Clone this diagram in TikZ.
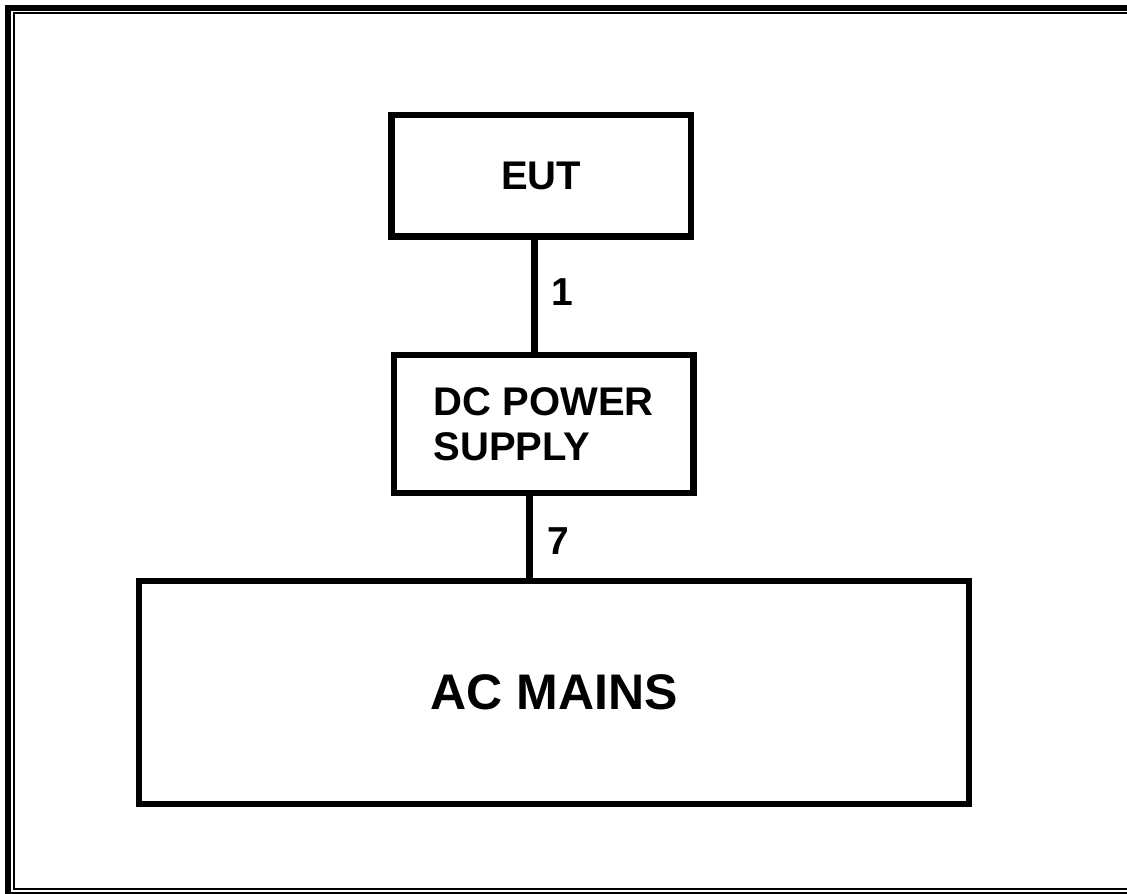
\documentclass[tikz,border=0pt]{standalone}
\usepackage{fontspec}
\setmainfont{Liberation Sans}
\usepackage{tikz}

\begin{document}
\begin{tikzpicture}[x=1pt, y=-1pt, line width=6.5pt,
    box/.style={draw, rectangle, inner sep=0pt, align=left,
                font=\fontsize{40}{45}\selectfont\bfseries},
    wirelabel/.style={inner sep=0pt, font=\fontsize{39}{44}\selectfont\bfseries}]
  \useasboundingbox (0,0) rectangle (1127,894);
  \clip (0,0) rectangle (1127,894);

  % Page frame
  \draw[line width=6.5pt] (8,8) rectangle (1140,895.5);
  \draw[line width=2pt] (14,13) rectangle (1132,889);

  % Blocks
  \node[box, minimum width=299.5pt, minimum height=121.5pt] (eut) at (541.25,175.75) {EUT};
  \node[box, minimum width=299.5pt, minimum height=138pt] (dcps) at (543.75,424) {DC POWER\\SUPPLY};
  \node[box, minimum width=830pt, minimum height=223pt,
        font=\fontsize{50}{56}\selectfont\bfseries] (mains) at (554,692.5) {AC MAINS};

  % Cables
  \coordinate (c1) at (534.5,0);
  \coordinate (c7) at (529.5,0);
  \draw (c1 |- eut.south) -- (c1 |- dcps.north);
  \draw (c7 |- dcps.south) -- (c7 |- mains.north);
  \node[wirelabel] (n1) at (562,292) {1};
  \node[wirelabel] (n7) at (558,541) {7};
\end{tikzpicture}
\end{document}
